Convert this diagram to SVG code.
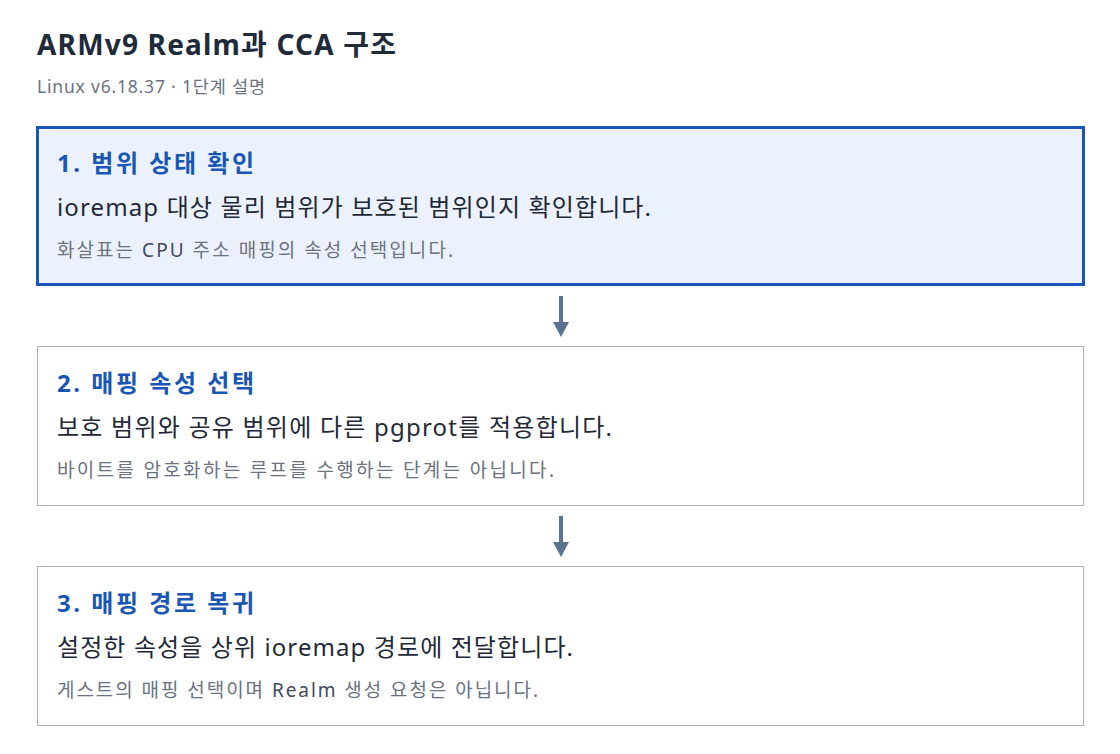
<svg xmlns="http://www.w3.org/2000/svg" width="1120" height="754" viewBox="0 0 1120 754">
<style>
text{font-family:"Noto Sans","Noto Sans CJK KR",sans-serif}
.title{font-size:28px;font-weight:700;fill:#1f2b3b}
.sub{font-size:17.5px;fill:#6b7280}
.head{font-size:24px;font-weight:700;fill:#1a56b4}
.body{font-size:24px;fill:#1f2937}
.note{font-size:19px;fill:#6b7280}
.note tspan{fill:#3f4a5a}
.box{fill:#ffffff;stroke:#aab4c3;stroke-width:1}
.box.active{fill:#ebf2fd;stroke:#1a56b8;stroke-width:3}
.conn{stroke:#5a7390;stroke-width:4;fill:none}
.head-arrow{fill:#5a7390}
</style>
<rect width="1120" height="754" fill="#ffffff"/>
<text class="title" x="37" y="55" textLength="359" lengthAdjust="spacing">ARMv9 Realm과 CCA 구조</text>
<text class="sub" x="37" y="93" textLength="228" lengthAdjust="spacing">Linux v6.18.37 · 1단계 설명</text>
<g id="node1">
<rect class="box active" x="37.5" y="127.5" width="1046" height="157"/>
<text class="head" x="57" y="172" textLength="197" lengthAdjust="spacing">1. 범위 상태 확인</text>
<text class="body" x="57" y="216" textLength="594" lengthAdjust="spacing">ioremap 대상 물리 범위가 보호된 범위인지 확인합니다.</text>
<text class="note" x="57" y="257" textLength="396" lengthAdjust="spacing">화살표는 <tspan>CPU</tspan> 주소 매핑의 속성 선택입니다.</text>
</g>
<g id="node2">
<rect class="box" x="37.5" y="346.5" width="1046" height="159"/>
<text class="head" x="57" y="392" textLength="197" lengthAdjust="spacing">2. 매핑 속성 선택</text>
<text class="body" x="57" y="436" textLength="555" lengthAdjust="spacing">보호 범위와 공유 범위에 다른 pgprot를 적용합니다.</text>
<text class="note" x="57" y="477" textLength="497" lengthAdjust="spacing">바이트를 암호화하는 루프를 수행하는 단계는 아닙니다.</text>
</g>
<g id="node3">
<rect class="box" x="37.5" y="566.5" width="1046" height="159"/>
<text class="head" x="57" y="612" textLength="197" lengthAdjust="spacing">3. 매핑 경로 복귀</text>
<text class="body" x="57" y="656" textLength="516" lengthAdjust="spacing">설정한 속성을 상위 ioremap 경로에 전달합니다.</text>
<text class="note" x="57" y="697" textLength="481" lengthAdjust="spacing">게스트의 매핑 선택이며 <tspan>Realm</tspan> 생성 요청은 아닙니다.</text>
</g>
<g id="connectors">
<line class="conn" x1="561" y1="296" x2="561" y2="323"/>
<polygon class="head-arrow" points="553,322 569,322 561,337"/>
<line class="conn" x1="561" y1="516" x2="561" y2="543"/>
<polygon class="head-arrow" points="553,542 569,542 561,557"/>
</g>
</svg>
